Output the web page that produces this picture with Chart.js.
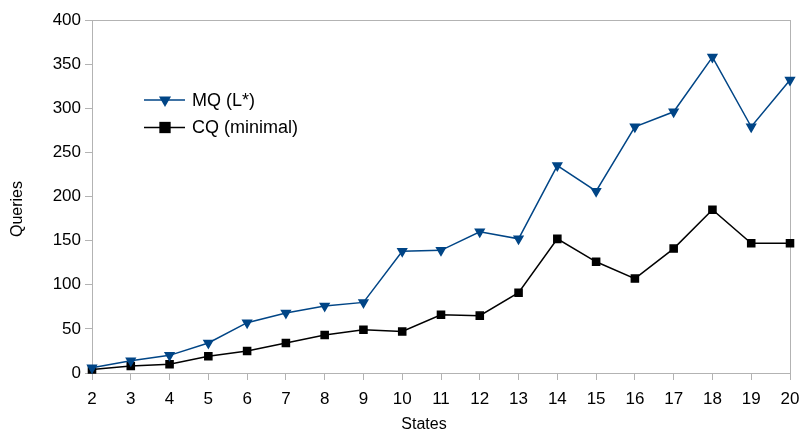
<!DOCTYPE html>
<html>
<head>
<meta charset="utf-8">
<script src="https://cdn.jsdelivr.net/npm/chart.js@4/dist/chart.umd.min.js"></script>
<style>
  html, body { margin: 0; padding: 0; background: #fff; }
  #wrap { width: 799px; height: 432px; }
</style>
</head>
<body>
<div id="wrap"><canvas id="chart"></canvas></div>
<script>
const states = ["2","3","4","5","6","7","8","9","10","11","12","13","14","15","16","17","18","19","20"];
const mqLstar = [6, 14, 20, 34, 57, 68, 76, 80, 138, 139, 160, 152, 235, 206, 279, 296, 358, 279, 332];
const cqMinimal = [4, 8, 10, 19, 25, 34, 43, 49, 47, 66, 65, 91, 152, 126, 107, 141, 185, 147, 147];
const yTicks = [0, 50, 100, 150, 200, 250, 300, 350, 400];
const xTitle = "States";
const yTitle = "Queries";

const axisGrey = "#b3b3b3";
const FONT = "'Liberation Sans', Arial, sans-serif";

// frame around the plot (under the lines), then axis titles and legend on top
const framePlugin = {
    id: "frame",
    beforeDatasetsDraw(chart) {
        const { ctx, chartArea: a } = chart;
        ctx.save();
        ctx.strokeStyle = axisGrey;
        ctx.lineWidth = 1;
        ctx.strokeRect(Math.round(a.left) + 0.5, Math.round(a.top) + 0.5,
            Math.round(a.right - a.left), Math.round(a.bottom - a.top));
        ctx.restore();
    },
    afterDraw(chart) {
        const { ctx } = chart;
        ctx.save();
        // axis titles
        ctx.fillStyle = "#000";
        ctx.font = "16px " + FONT;
        ctx.textAlign = "center";
        ctx.textBaseline = "middle";
        ctx.fillText(xTitle, 424, 425);
        ctx.save();
        ctx.translate(18, 209);
        ctx.rotate(-Math.PI / 2);
        ctx.fillText(yTitle, 0, 0);
        ctx.restore();

        // legend
        const lx = 144, ly = 100;
        ctx.font = "18px " + FONT;
        ctx.textAlign = "left";
        chart.data.datasets.forEach((ds, i) => {
            const y = ly + i * 27.5;
            ctx.strokeStyle = ds.borderColor;
            ctx.lineWidth = 1.5;
            ctx.beginPath();
            ctx.moveTo(lx, y);
            ctx.lineTo(lx + 41, y);
            ctx.stroke();
            ctx.fillStyle = ds.pointBackgroundColor;
            Chart.helpers.drawPoint(ctx, {
                pointStyle: ds.pointStyle,
                rotation: ds.pointRotation || 0,
                radius: ds.legendRadius,
                borderWidth: 0
            }, lx + 21, y);
            ctx.fillStyle = "#000";
            ctx.fillText(ds.label, lx + 48, y + 1);
        });
        ctx.restore();
    }
};

new Chart(document.getElementById("chart"), {
    type: "line",
    data: {
        labels: states,
        datasets: [
            {
                label: "MQ (L*)",
                data: mqLstar,
                borderColor: "#004586",
                backgroundColor: "#004586",
                pointBackgroundColor: "#004586",
                pointBorderColor: "#004586",
                borderWidth: 1.5,
                pointStyle: "triangle",
                pointRotation: 180,
                pointRadius: 5,
                legendRadius: 7,
                clip: false,
                tension: 0
            },
            {
                label: "CQ (minimal)",
                data: cqMinimal,
                borderColor: "#000000",
                backgroundColor: "#000000",
                pointBackgroundColor: "#000000",
                pointBorderColor: "#000000",
                borderWidth: 1.5,
                pointStyle: "rect",
                pointRadius: 5,
                legendRadius: 8,
                clip: false,
                tension: 0
            }
        ]
    },
    options: {
        responsive: true,
        maintainAspectRatio: false,
        animation: false,
        layout: { padding: { top: 20, right: 0, left: 0, bottom: 0 } },
        plugins: {
            legend: { display: false },
            tooltip: { enabled: false }
        },
        scales: {
            x: {
                offset: false,
                grid: { display: true, drawOnChartArea: false, color: axisGrey, tickLength: 7 },
                border: { color: axisGrey },
                ticks: { color: "#000", font: { family: FONT, size: 17 }, maxRotation: 0, autoSkip: false, padding: 9 },
                afterFit(scale) {
                    scale.height = 59;
                    scale.paddingLeft = 0;
                    scale.paddingRight = 9;
                }
            },
            y: {
                min: 0,
                max: 400,
                afterBuildTicks(scale) { scale.ticks = yTicks.map(v => ({ value: v })); },
                grid: { display: true, drawOnChartArea: false, color: axisGrey, tickLength: 7 },
                border: { color: axisGrey },
                ticks: { color: "#000", font: { family: FONT, size: 17 }, padding: 4 },
                afterFit(scale) { scale.width = 92; }
            }
        }
    },
    plugins: [framePlugin]
});
</script>
</body>
</html>
